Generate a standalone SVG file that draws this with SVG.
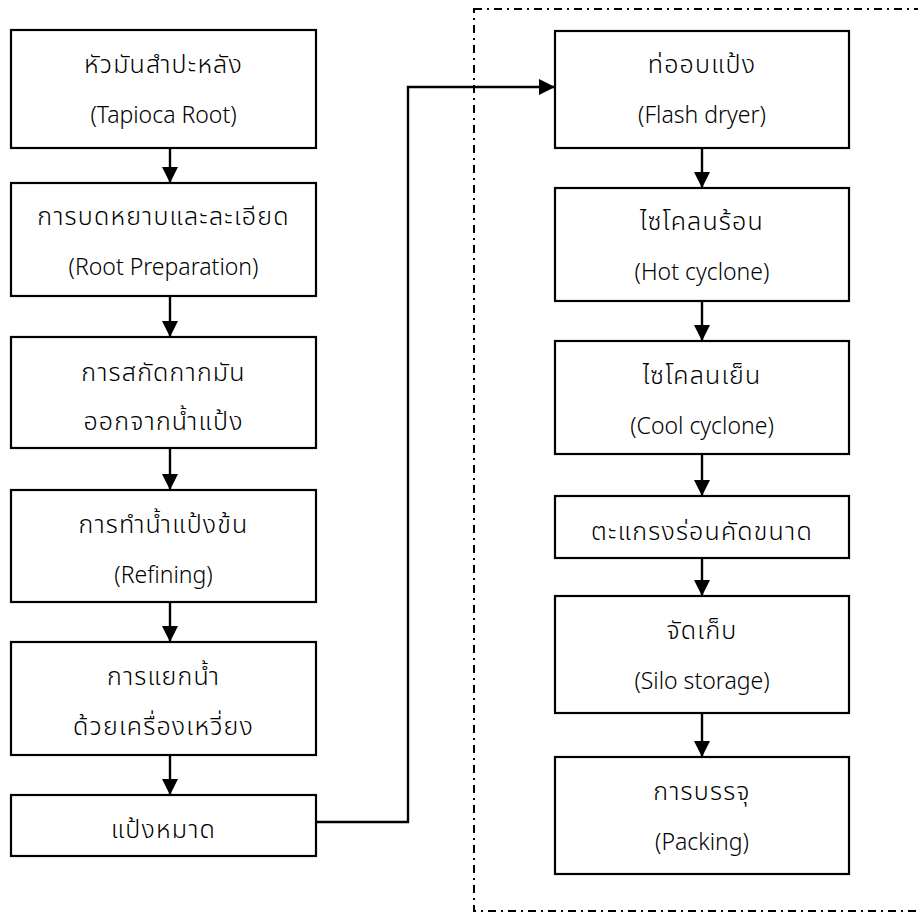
<svg xmlns="http://www.w3.org/2000/svg" width="918" height="914" viewBox="0 0 918 914">
  <style>
    .box { fill: #ffffff; stroke: #000000; stroke-width: 2.2; }
    .lbl { font-family: "Noto Sans", "DejaVu Sans", sans-serif; font-size: 23px; font-weight: 300; fill: #000000; text-anchor: middle; }
    .th { font-family: "Noto Sans Thai", "Noto Sans", "DejaVu Sans", sans-serif; font-size: 25px; letter-spacing: 1.2px; }
    .flow { fill: none; stroke: #000000; stroke-width: 2.4; }
    .zone { fill: none; stroke: #000000; stroke-width: 2; stroke-dasharray: 8 5 2 5; }
  </style>
  <defs>
    <marker id="arrow" markerUnits="userSpaceOnUse" markerWidth="18" markerHeight="18" refX="16" refY="8" orient="auto">
      <path d="M0,0 L16,8 L0,16 Z" fill="#000000"/>
    </marker>
  </defs>

  <rect width="918" height="914" fill="#ffffff"/>

  <!-- drying section boundary -->
  <rect class="zone" x="474" y="9" width="460" height="902"/>

  <!-- connectors -->
  <g id="connectors">
    <line class="flow" x1="170" y1="148" x2="170" y2="183" marker-end="url(#arrow)"/>
    <line class="flow" x1="170" y1="296" x2="170" y2="337" marker-end="url(#arrow)"/>
    <line class="flow" x1="170" y1="448" x2="170" y2="490" marker-end="url(#arrow)"/>
    <line class="flow" x1="170" y1="602" x2="170" y2="642" marker-end="url(#arrow)"/>
    <line class="flow" x1="170" y1="755" x2="170" y2="795" marker-end="url(#arrow)"/>
    <path class="flow" d="M316,822 H408 V87 H555" marker-end="url(#arrow)"/>
    <line class="flow" x1="702" y1="148" x2="702" y2="188" marker-end="url(#arrow)"/>
    <line class="flow" x1="702" y1="301" x2="702" y2="341" marker-end="url(#arrow)"/>
    <line class="flow" x1="702" y1="454" x2="702" y2="496" marker-end="url(#arrow)"/>
    <line class="flow" x1="702" y1="558" x2="702" y2="596" marker-end="url(#arrow)"/>
    <line class="flow" x1="702" y1="713" x2="702" y2="757" marker-end="url(#arrow)"/>
  </g>

  <!-- left column -->
  <g id="tapioca-root">
    <rect class="box" x="11" y="30" width="305" height="118"/>
    <text class="lbl th" x="163.5" y="73">หัวมันสำปะหลัง</text>
    <text class="lbl" x="163.5" y="123">(Tapioca Root)</text>
  </g>
  <g id="root-preparation">
    <rect class="box" x="11" y="183" width="305" height="113"/>
    <text class="lbl th" x="163.5" y="225">การบดหยาบและละเอียด</text>
    <text class="lbl" x="163.5" y="275">(Root Preparation)</text>
  </g>
  <g id="extraction">
    <rect class="box" x="11" y="337" width="305" height="111"/>
    <text class="lbl th" x="163.5" y="381">การสกัดกากมัน</text>
    <text class="lbl th" x="163.5" y="430">ออกจากน้ำแป้ง</text>
  </g>
  <g id="refining">
    <rect class="box" x="11" y="490" width="305" height="112"/>
    <text class="lbl th" x="163.5" y="533">การทำน้ำแป้งข้น</text>
    <text class="lbl" x="163.5" y="583">(Refining)</text>
  </g>
  <g id="centrifuge">
    <rect class="box" x="11" y="642" width="305" height="113"/>
    <text class="lbl th" x="163.5" y="685">การแยกน้ำ</text>
    <text class="lbl th" x="163.5" y="735">ด้วยเครื่องเหวี่ยง</text>
  </g>
  <g id="wet-starch">
    <rect class="box" x="11" y="795" width="305" height="61"/>
    <text class="lbl th" x="163.5" y="838">แป้งหมาด</text>
  </g>

  <!-- right column -->
  <g id="flash-dryer">
    <rect class="box" x="555" y="31" width="294" height="117"/>
    <text class="lbl th" x="702" y="73">ท่ออบแป้ง</text>
    <text class="lbl" x="702" y="123">(Flash dryer)</text>
  </g>
  <g id="hot-cyclone">
    <rect class="box" x="555" y="188" width="294" height="113"/>
    <text class="lbl th" x="702" y="230">ไซโคลนร้อน</text>
    <text class="lbl" x="702" y="280">(Hot cyclone)</text>
  </g>
  <g id="cool-cyclone">
    <rect class="box" x="555" y="341" width="294" height="113"/>
    <text class="lbl th" x="702" y="384">ไซโคลนเย็น</text>
    <text class="lbl" x="702" y="434">(Cool cyclone)</text>
  </g>
  <g id="sieve">
    <rect class="box" x="555" y="496" width="294" height="62"/>
    <text class="lbl th" x="702" y="540">ตะแกรงร่อนคัดขนาด</text>
  </g>
  <g id="silo-storage">
    <rect class="box" x="555" y="596" width="294" height="117"/>
    <text class="lbl th" x="702" y="639">จัดเก็บ</text>
    <text class="lbl" x="702" y="689">(Silo storage)</text>
  </g>
  <g id="packing">
    <rect class="box" x="555" y="757" width="294" height="117"/>
    <text class="lbl th" x="702" y="800">การบรรจุ</text>
    <text class="lbl" x="702" y="850">(Packing)</text>
  </g>
</svg>
